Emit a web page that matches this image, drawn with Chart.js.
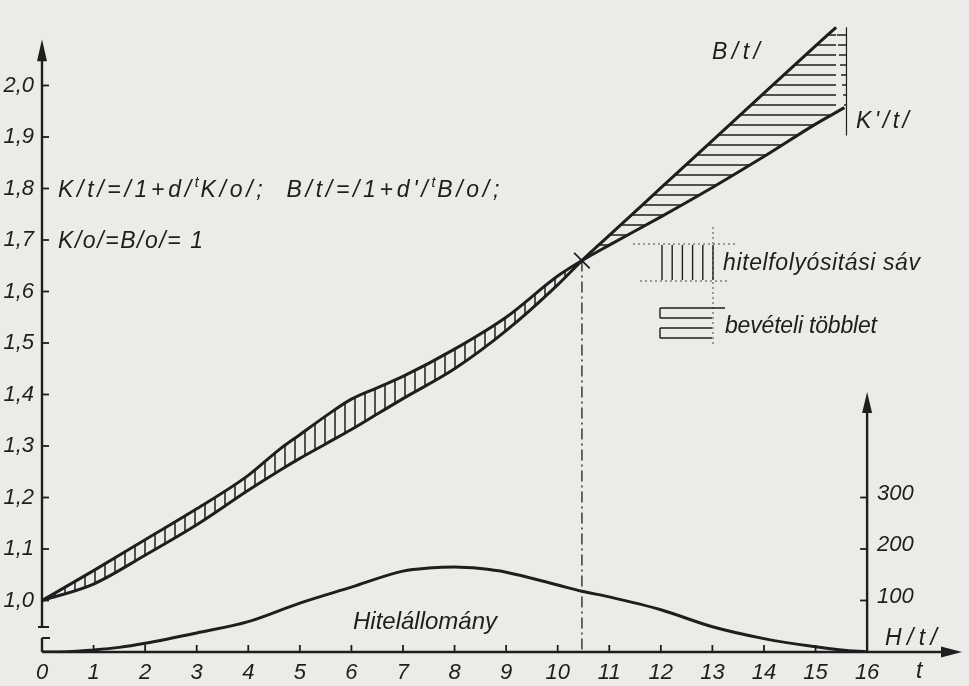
<!DOCTYPE html>
<html><head><meta charset="utf-8">
<script src="https://cdn.jsdelivr.net/npm/chart.js@4/dist/chart.umd.min.js"></script>
<style>html,body{margin:0;padding:0;background:#ecebe8;} canvas{display:block;}</style>
</head><body>
<canvas id="c" width="969" height="686"></canvas>
<script>
// ---------- data ----------
const xTicks = [0,1,2,3,4,5,6,7,8,9,10,11,12,13,14,15,16];
const yTicks = [1.0,1.1,1.2,1.3,1.4,1.5,1.6,1.7,1.8,1.9,2.0];
const hTicks = [100,200,300];

// K(t): upper curve left of crossing, K'(t) lower right of crossing
const tK = [0,1,2,3,4,4.6,5,5.5,6,6.5,7,8,9,10,10.47,11,12,13,14,15,15.56];
const vK = [1.000,1.058,1.118,1.178,1.243,1.293,1.322,1.358,1.391,1.413,1.435,1.488,1.550,1.630,1.660,1.690,1.745,1.802,1.862,1.925,1.957];
// B(t)
const tB = [0,1,2,3,4,4.6,5,5.5,6,6.5,7,8,9,10,10.47,11,12,13,14,15,15.4];
const vB = [1.000,1.032,1.088,1.147,1.214,1.252,1.276,1.304,1.332,1.362,1.392,1.450,1.524,1.613,1.660,1.709,1.801,1.893,1.985,2.077,2.113];
// H(t): Hitelállomány (right axis)
const tH = [0,0.5,1,1.5,2,3,4,5,6,7,7.5,8,8.5,9,10,10.47,11,12,13,14,15,15.5,16];
const vH = [0,0.5,4,9,17,37,59,95,126,157,163,165,162,155,130,118,107,82,49,26,10,4,0];

const crossT = 10.47, crossV = 1.66;
const tEdge = [15.6,15.6], vEdge = [2.113,1.903];

const Y_MIN = 0.9, Y_MAX = 2.166, X_MAX = 17.84, H_FACTOR = 1000;
const Y_ARROW = 2.09, H_ARROW = 505;

// ---------- styles ----------
const INK = '#1e1e1e';
const BG = '#ecebe8';
const FONT = '"Liberation Sans", Arial, sans-serif';

const canvas = document.getElementById('c');
const ctx = canvas.getContext('2d');

function hatch(vertical){
  const c = document.createElement('canvas');
  c.width = 10; c.height = 10;
  const g = c.getContext('2d');
  g.strokeStyle = INK; g.lineWidth = 1.5;
  g.beginPath();
  if (vertical){ g.moveTo(5,0); g.lineTo(5,10); }
  else { g.moveTo(0,5); g.lineTo(10,5); }
  g.stroke();
  return ctx.createPattern(c,'repeat');
}
const patV = hatch(true), patH = hatch(false);

const pts = (ts, vs) => ts.map((t,i)=>({x:t, y:vs[i]}));
const last = a => a[a.length-1];
// corner of the "bevételi többlet" area between the curve ends and the closing edge line
const cornerPts = [
  {x: last(tB), y: last(vB)}, {x: tEdge[0], y: vEdge[0]},
  {x: tEdge[0], y: last(vK)}, {x: last(tK), y: last(vK)}
];

function fitText(c, s, x, y, w, size){
  c.font = 'italic ' + size + 'px ' + FONT;
  const chars = [...s];
  let nat = 0;
  chars.forEach(ch => nat += c.measureText(ch).width);
  const sp = chars.length > 1 ? (w - nat)/(chars.length-1) : 0;
  let cx = x;
  chars.forEach(ch => { c.fillText(ch, cx, y); cx += c.measureText(ch).width + sp; });
}
function richText(c, pieces, x, y, w, size){
  const items = [];
  pieces.forEach(p => [...p.s].forEach(ch => items.push({ch, sup:p.sup})));
  const fnt = sup => 'italic ' + (sup ? Math.round(size*0.62) : size) + 'px ' + FONT;
  let nat = 0;
  items.forEach(it => { c.font = fnt(it.sup); it.w = c.measureText(it.ch).width; nat += it.w; });
  const sp = (w - nat)/(items.length-1);
  let cx = x;
  items.forEach(it => {
    c.font = fnt(it.sup);
    c.fillText(it.ch, cx, it.sup ? y - size*0.45 : y);
    cx += it.w + (it.sup ? sp*0.5 : sp);
  });
}

const bgPlugin = {
  id:'bg',
  beforeDraw(chart){
    const c = chart.ctx;
    c.save(); c.fillStyle = BG; c.fillRect(0,0,chart.width,chart.height); c.restore();
  }
};

const decoPlugin = {
  id:'deco',
  afterDraw(chart){
    const c = chart.ctx;
    const xs = chart.scales.x, ys = chart.scales.y, hs = chart.scales.yH;
    const X0 = xs.getPixelForValue(0), yBot = ys.getPixelForValue(Y_MIN);
    c.save();
    c.strokeStyle = INK; c.fillStyle = INK; c.lineWidth = 2.4; c.lineCap = 'butt';
    // x axis
    const xEnd = xs.right;
    c.beginPath(); c.moveTo(X0, yBot); c.lineTo(xEnd-16, yBot); c.stroke();
    c.beginPath(); c.moveTo(xEnd, yBot); c.lineTo(xEnd-21, yBot-5.5); c.lineTo(xEnd-21, yBot+5.5); c.closePath(); c.fill();
    // left axis with break
    const yTip = ys.getPixelForValue(Y_ARROW);
    c.beginPath(); c.moveTo(X0, yBot); c.lineTo(X0, yBot-14); c.stroke();
    c.beginPath(); c.moveTo(X0, yBot-25); c.lineTo(X0, yTip+16); c.stroke();
    c.lineWidth = 2;
    c.beginPath(); c.moveTo(X0-4, yBot-25); c.lineTo(X0+7, yBot-25); c.stroke();
    c.beginPath(); c.moveTo(X0, yBot-14); c.lineTo(X0+8, yBot-14); c.stroke();
    c.beginPath(); c.moveTo(X0, yTip); c.lineTo(X0-5, yTip+22); c.lineTo(X0+5, yTip+22); c.closePath(); c.fill();
    // left ticks
    c.lineWidth = 1.8;
    yTicks.forEach(v => { const p = ys.getPixelForValue(v); c.beginPath(); c.moveTo(X0, p); c.lineTo(X0+7, p); c.stroke(); });
    // x ticks
    xTicks.forEach(v => { if (v===0 || v===16) return; const p = xs.getPixelForValue(v); c.beginPath(); c.moveTo(p, yBot); c.lineTo(p, yBot-7); c.stroke(); });
    // right axis (H)
    const xR = xs.getPixelForValue(16);
    const hTip = hs.getPixelForValue(H_ARROW);
    c.lineWidth = 2.4;
    c.beginPath(); c.moveTo(xR, yBot); c.lineTo(xR, hTip+16); c.stroke();
    c.beginPath(); c.moveTo(xR, hTip); c.lineTo(xR-5, hTip+21); c.lineTo(xR+5, hTip+21); c.closePath(); c.fill();
    c.lineWidth = 1.8;
    c.textBaseline = 'middle'; c.textAlign = 'left';
    hTicks.forEach(v => {
      const p = hs.getPixelForValue(v);
      c.beginPath(); c.moveTo(xR-7, p); c.lineTo(xR, p); c.stroke();
      c.font = 'italic 22px ' + FONT;
      c.fillText(String(v), xR+10, p-4);
    });
    // texts
    c.textBaseline = 'alphabetic';
    richText(c, [{s:'K/t/=/1+d/'},{s:'t',sup:true},{s:'K/o/;  B/t/=/1+d\'/'},{s:'t',sup:true},{s:'B/o/;'}], 58, 197, 445, 23);
    fitText(c, 'K/o/=B/o/= 1', 58, 248, 145, 23);
    fitText(c, 'B/t/', 712, 59, 48, 23);
    fitText(c, "K'/t/", 856, 128, 53, 23);
    fitText(c, 'hitelfolyósitási sáv', 723, 270, 197, 23);
    fitText(c, 'bevételi többlet', 725, 333, 152, 23);
    fitText(c, 'Hitelállomány', 353, 629, 144, 24);
    fitText(c, 'H/t/', 885, 645, 52, 23);
    fitText(c, 't', 916, 678, 10, 23);
    // legend swatches
    c.lineWidth = 0.8; c.setLineDash([2,3]);
    c.beginPath(); c.moveTo(713, 227); c.lineTo(713, 347); c.stroke();
    c.beginPath(); c.moveTo(633, 244); c.lineTo(737, 244); c.stroke();
    c.beginPath(); c.moveTo(640, 281); c.lineTo(730, 281); c.stroke();
    c.setLineDash([]);
    c.lineWidth = 1.4;
    for (let i=0;i<6;i++){ const x = 662 + i*10.2; c.beginPath(); c.moveTo(x,245); c.lineTo(x,280); c.stroke(); }
    for (let i=0;i<4;i++){ const y = 308 + i*10; c.beginPath(); c.moveTo(660,y); c.lineTo(i===0?725:712,y); c.stroke(); }
    c.beginPath(); c.moveTo(660,308); c.lineTo(660,318); c.moveTo(660,328); c.lineTo(660,338); c.stroke();
    c.restore();
  }
};

const tickFont = {family: FONT, size: 22, style: 'italic'};
const noPad = s => { s.paddingTop = 0; s.paddingBottom = 0; s.paddingLeft = 0; s.paddingRight = 0; };

new Chart(ctx, {
  type: 'line',
  data: {datasets: [
    {label:'K/t/', data: pts(tK,vK), borderColor: INK, borderWidth: 3, pointRadius: 0,
     cubicInterpolationMode: 'monotone', fill: {target: 1, above: patV, below: patH}},
    {label:'B/t/', data: pts(tB,vB), borderColor: INK, borderWidth: 3, pointRadius: 0,
     cubicInterpolationMode: 'monotone', fill: false},
    {label:'Hitelállomány', data: pts(tH,vH), yAxisID: 'yH', borderColor: INK, borderWidth: 3, pointRadius: 0,
     cubicInterpolationMode: 'monotone', fill: false},
    {label:'corner', data: cornerPts, borderWidth: 0, borderColor: 'rgba(0,0,0,0)', pointRadius: 0,
     backgroundColor: patH, fill: 'shape'},
    {label:'edge', data: pts(tEdge,vEdge), borderColor: INK, borderWidth: 1.2, pointRadius: 0, fill: false},
    {label:'dashdot', data: pts([crossT,crossT],[crossV,Y_MIN]), borderColor: INK, borderWidth: 1.3,
     borderDash: [11,4,2,4], pointRadius: 0, fill: false},
    {label:'cross', data: pts([crossT],[crossV]), showLine: false, pointStyle: 'crossRot', pointRadius: 11,
     pointBorderWidth: 1.8, pointBorderColor: INK, pointBackgroundColor: INK}
  ]},
  options: {
    responsive: false, animation: false, devicePixelRatio: 1,
    layout: {padding: {left: 0, right: 7, top: 0, bottom: 0}, autoPadding: false},
    plugins: {legend: {display: false}, tooltip: {enabled: false}},
    scales: {
      x: {type: 'linear', min: 0, max: X_MAX,
          afterBuildTicks: s => { s.ticks = xTicks.map(v => ({value: v})); },
          afterFit: s => { s.height = 34; noPad(s); },
          grid: {display: false, drawTicks: false}, border: {display: false},
          ticks: {padding: 8, font: tickFont, color: INK, maxRotation: 0, autoSkip: false, callback: v => String(v)}},
      y: {type: 'linear', min: Y_MIN, max: Y_MAX,
          afterBuildTicks: s => { s.ticks = yTicks.map(v => ({value: v})); },
          afterFit: s => { s.width = 42; noPad(s); },
          grid: {display: false, drawTicks: false}, border: {display: false},
          ticks: {padding: 8, font: tickFont, color: INK, callback: v => v.toFixed(1).replace('.', ',')}},
      yH: {type: 'linear', display: false, min: 0, max: (Y_MAX - Y_MIN) * H_FACTOR}
    }
  },
  plugins: [bgPlugin, decoPlugin]
});
</script>
</body></html>
